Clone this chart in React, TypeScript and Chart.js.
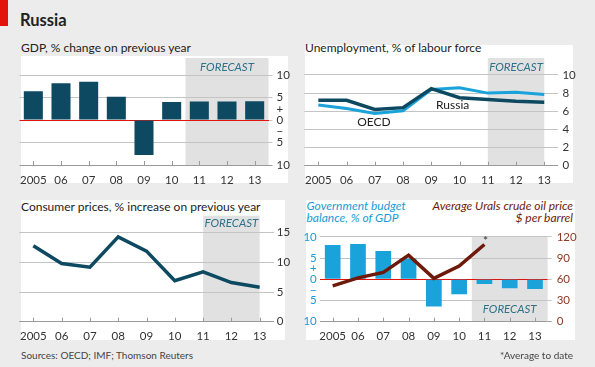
import React, { useEffect, useRef } from 'react';
import { Chart, registerables } from 'chart.js';

Chart.register(...registerables);
Chart.defaults.font.family = 'Lato, sans-serif';

// ---------- data ----------
const years = ['2005', '06', '07', '08', '09', '10', '11', '12', '13'];
const gdpGrowth = [6.4, 8.2, 8.5, 5.2, -7.8, 4.0, 4.1, 4.1, 4.2];
const unemploymentRussia = [7.2, 7.2, 6.2, 6.4, 8.5, 7.5, 7.3, 7.1, 7.0];
const unemploymentOECD = [6.7, 6.3, 5.75, 6.05, 8.4, 8.6, 8.0, 8.1, 7.85];
const consumerPrices = [12.8, 9.8, 9.2, 14.3, 11.9, 6.9, 8.4, 6.6, 5.8];
const budgetBalance = [8.1, 8.3, 6.7, 4.9, -6.4, -3.5, -1.1, -2.1, -2.3];
const uralsOilPrice = [50.8, 62.0, 69.8, 94.2, 61.3, 78.7, 109.3, null, null];

const signedTicks = [-10, -5, -2.5, 0, 2.5, 5, 10];
const unemploymentTicks = [0, 2, 4, 6, 8, 10];
const priceTicks = [0, 5, 10, 15];
const oilTicks = [0, 30, 60, 90, 120];

// ---------- styles ----------
const GRID = '#c4c4c4';
const BASE = '#9a9a9a';
const RED = '#e3120b';
const DARK = '#0d4a62';
const LIGHT = '#1aa3db';
const OIL = '#6e1a0a';
const TICK_FONT = { family: 'Lato, sans-serif', size: 11.5 };

const signedLabel = (v: number) => (v === 2.5 ? '+' : v === -2.5 ? '\u2212' : String(Math.abs(v)));

const gridColor = (redZero: boolean, base: number) => (c: any) => {
  const v = c.tick ? c.tick.value : null;
  if (v === 2.5 || v === -2.5) return 'rgba(0,0,0,0)';
  if (redZero && v === 0) return RED;
  if (v === base) return BASE;
  return GRID;
};
const tickColor = (base: number) => (c: any) => {
  const v = c.tick ? c.tick.value : null;
  if (v === 2.5 || v === -2.5) return 'rgba(0,0,0,0)';
  if (v === base) return BASE;
  return GRID;
};

const decorPlugin = {
  id: 'decor',
  beforeDraw(chart: any, _a: any, opts: any) {
    const { ctx, chartArea, scales } = chart;
    const x = scales.x;
    if (opts && opts.shadeFrom != null) {
      const x0 = x.getPixelForValue(opts.shadeFrom);
      const x1 = x.getPixelForValue(opts.shadeTo);
      ctx.save();
      ctx.fillStyle = '#e1e1e1';
      ctx.fillRect(x0, chartArea.top, x1 - x0, chartArea.bottom - chartArea.top);
      ctx.fillStyle = '#2f7189';
      ctx.font = 'italic 11.5px Lato, sans-serif';
      ctx.textAlign = 'center';
      ctx.textBaseline = 'middle';
      const ty = opts.labelAtBottom ? chartArea.bottom - opts.labelOffset : chartArea.top + opts.labelOffset;
      ctx.fillText('FORECAST', (x0 + x1) / 2, ty);
      ctx.restore();
    }
  },
  beforeDatasetsDraw(chart: any) {
    const { ctx, chartArea, scales } = chart;
    const x = scales.x;
    ctx.save();
    ctx.strokeStyle = BASE;
    ctx.lineWidth = 1;
    ctx.beginPath();
    for (let i = 0; i < x.ticks.length; i++) {
      const px = Math.round(x.getPixelForTick(i)) + 0.5;
      ctx.moveTo(px, chartArea.bottom);
      ctx.lineTo(px, chartArea.bottom - 4);
    }
    ctx.stroke();
    ctx.restore();
  },
  afterDatasetsDraw(chart: any, _a: any, opts: any) {
    if (!opts || opts.asterisk == null) return;
    const { ctx } = chart;
    const pt = chart.getDatasetMeta(opts.asterisk.dataset).data[opts.asterisk.index];
    if (!pt) return;
    ctx.save();
    ctx.fillStyle = '#333';
    ctx.font = '12px Lato, sans-serif';
    ctx.textAlign = 'center';
    ctx.textBaseline = 'alphabetic';
    ctx.fillText('*', pt.x + 1, pt.y + 1);
    ctx.restore();
  },
};

const xAxis = (height: number, padding: number) => ({
  offset: true,
  grid: { display: false, drawTicks: false },
  border: { display: false },
  ticks: { autoSkip: false, maxRotation: 0, padding, font: TICK_FONT, color: '#333' },
  afterFit: (s: any) => {
    s.height = height;
  },
});

// ---------- chart configs ----------
const gdpConfig = () => ({
  type: 'bar',
  data: {
    labels: years,
    datasets: [{ data: gdpGrowth, backgroundColor: DARK, barPercentage: 0.86, categoryPercentage: 0.8 }],
  },
  plugins: [decorPlugin],
  options: {
    animation: false,
    responsive: false,
    devicePixelRatio: 1,
    layout: { padding: { left: 19.5, top: 18, right: 0, bottom: 0 } },
    plugins: {
      legend: { display: false },
      tooltip: { enabled: false },
      decor: { shadeFrom: 5.5, shadeTo: 8.5, labelOffset: 9 },
    },
    scales: {
      x: xAxis(25, 8),
      y: {
        position: 'right',
        min: -10,
        max: 13.8,
        afterBuildTicks: (s: any) => {
          s.ticks = signedTicks.map((v) => ({ value: v }));
        },
        grid: { color: gridColor(true, -10), tickColor: tickColor(-10), drawTicks: true, tickLength: 4 },
        border: { display: false },
        ticks: { autoSkip: false, callback: (v: any) => signedLabel(Number(v)), padding: 4, font: TICK_FONT, color: '#333' },
        afterFit: (s: any) => {
          s.width = 26.5;
        },
      },
    },
  },
});

const unemploymentConfig = () => ({
  type: 'line',
  data: {
    labels: years,
    datasets: [
      { data: unemploymentRussia, borderColor: DARK, borderWidth: 3.5, pointRadius: 0, tension: 0 },
      { data: unemploymentOECD, borderColor: LIGHT, borderWidth: 3, pointRadius: 0, tension: 0 },
    ],
  },
  plugins: [decorPlugin],
  options: {
    animation: false,
    responsive: false,
    devicePixelRatio: 1,
    layout: { padding: { left: 9.2, top: 18, right: 0, bottom: 0 } },
    plugins: {
      legend: { display: false },
      tooltip: { enabled: false },
      decor: { shadeFrom: 6, shadeTo: 8, labelOffset: 9 },
    },
    scales: {
      x: xAxis(24.3, 7.4),
      y: {
        position: 'right',
        min: 0,
        max: 11.87,
        afterBuildTicks: (s: any) => {
          s.ticks = unemploymentTicks.map((v) => ({ value: v }));
        },
        grid: { color: gridColor(false, 0), drawTicks: false },
        border: { display: false },
        ticks: { autoSkip: false, padding: 4, font: TICK_FONT, color: '#333' },
        afterFit: (s: any) => {
          s.width = 36.6;
        },
      },
    },
  },
});

const pricesConfig = () => ({
  type: 'line',
  data: {
    labels: years,
    datasets: [{ data: consumerPrices, borderColor: DARK, borderWidth: 3.5, pointRadius: 0, tension: 0 }],
  },
  plugins: [decorPlugin],
  options: {
    animation: false,
    responsive: false,
    devicePixelRatio: 1,
    layout: { padding: { left: 19.2, top: 20.7, right: 0, bottom: 0 } },
    plugins: {
      legend: { display: false },
      tooltip: { enabled: false },
      decor: { shadeFrom: 6, shadeTo: 8, labelOffset: 7.6 },
    },
    scales: {
      x: xAxis(23.3, 8.1),
      y: {
        position: 'right',
        min: 0,
        max: 17.87,
        afterBuildTicks: (s: any) => {
          s.ticks = priceTicks.map((v) => ({ value: v }));
        },
        grid: { color: gridColor(false, 0), drawTicks: false },
        border: { display: false },
        ticks: { autoSkip: false, padding: 3, font: TICK_FONT, color: '#333' },
        afterFit: (s: any) => {
          s.width = 21.2;
        },
      },
    },
  },
});

const budgetConfig = () => ({
  type: 'bar',
  data: {
    labels: years,
    datasets: [
      {
        type: 'line',
        data: uralsOilPrice,
        yAxisID: 'y1',
        borderColor: OIL,
        borderWidth: 3.5,
        pointRadius: 0,
        tension: 0,
        order: 0,
      },
      {
        type: 'bar',
        data: budgetBalance,
        yAxisID: 'y',
        backgroundColor: LIGHT,
        barPercentage: 0.775,
        categoryPercentage: 0.8,
        order: 1,
      },
    ],
  },
  plugins: [decorPlugin],
  options: {
    animation: false,
    responsive: false,
    devicePixelRatio: 1,
    layout: { padding: { left: 0, top: 11.7, right: 0, bottom: 0 } },
    plugins: {
      legend: { display: false },
      tooltip: { enabled: false },
      decor: { shadeFrom: 5.5, shadeTo: 8.5, labelOffset: 12.7, labelAtBottom: true, asterisk: { dataset: 0, index: 6 } },
    },
    scales: {
      x: xAxis(28.3, 8.1),
      y: {
        position: 'left',
        min: -10,
        max: 10,
        afterBuildTicks: (s: any) => {
          s.ticks = signedTicks.map((v) => ({ value: v }));
        },
        grid: { color: gridColor(true, -10), drawTicks: false },
        border: { display: false },
        ticks: { autoSkip: false, callback: (v: any) => signedLabel(Number(v)), padding: 3.3, font: TICK_FONT, color: '#1a9bd3' },
        afterFit: (s: any) => {
          s.width = 25.05;
        },
      },
      y1: {
        position: 'right',
        min: 0,
        max: 120,
        afterBuildTicks: (s: any) => {
          s.ticks = oilTicks.map((v) => ({ value: v }));
        },
        grid: { drawOnChartArea: false, drawTicks: true, tickLength: 4, color: GRID, tickColor: tickColor(0) },
        border: { display: false },
        ticks: { autoSkip: false, padding: 5, font: TICK_FONT, color: '#8a3a20' },
        afterFit: (s: any) => {
          s.width = 47.35;
        },
      },
    },
  },
});

// ---------- components ----------
function ChartBox({ x, y, w, h, build }: { x: number; y: number; w: number; h: number; build: () => any }) {
  const ref = useRef<HTMLCanvasElement>(null);
  useEffect(() => {
    const chart = new Chart(ref.current as HTMLCanvasElement, build());
    return () => chart.destroy();
  }, []);
  return (
    <canvas
      ref={ref}
      width={w}
      height={h}
      style={{ position: 'absolute', left: x, top: y, width: w, height: h }}
    />
  );
}

const abs = (left: number, top: number, extra: any = {}) => ({ position: 'absolute' as const, left, top, ...extra });

export default function App() {
  return (
    <div
      style={{
        position: 'absolute',
        left: 0,
        top: 0,
        width: 595,
        height: 367,
        background: '#ececec',
        overflow: 'hidden',
        fontFamily: 'Lato, sans-serif',
        color: '#222',
      }}
    >
      <div style={abs(0, 0, { width: 8, height: 26, background: RED })} />
      <div style={abs(20, 10, { fontSize: 16.5, fontWeight: 700, lineHeight: '20px', color: '#222' })}>Russia</div>

      {/* white panels */}
      <div style={abs(21, 56, { width: 267, height: 127, background: '#fff' })} />
      <div style={abs(305, 45, { width: 268, height: 138, background: '#fff' })} />
      <div style={abs(21, 200, { width: 264, height: 140, background: '#fff' })} />
      <div style={abs(306, 200, { width: 269, height: 140, background: '#fff' })} />

      {/* titles */}
      <div style={abs(21, 41, { fontSize: 12, lineHeight: '14px', whiteSpace: 'nowrap' })}>GDP, % change on previous year</div>
      <div style={abs(305, 41, { fontSize: 12, lineHeight: '14px', whiteSpace: 'nowrap' })}>Unemployment, % of labour force</div>
      <div style={abs(21, 200.3, { fontSize: 12, lineHeight: '14px', whiteSpace: 'nowrap' })}>
        Consumer prices, % increase on previous year
      </div>
      <div style={abs(306.5, 200.3, { fontSize: 12, lineHeight: '12px', fontStyle: 'italic', color: '#1a9bd3', whiteSpace: 'nowrap' })}>
        Government budget
        <br />
        balance, % of GDP
      </div>
      <div
        style={{
          position: 'absolute',
          right: 22,
          top: 200.3,
          fontSize: 12,
          lineHeight: '12px',
          fontStyle: 'italic',
          color: OIL,
          textAlign: 'right',
          whiteSpace: 'nowrap',
        }}
      >
        Average Urals crude oil price
        <br />$ per barrel
      </div>

      {/* charts */}
      <ChartBox x={0} y={40} w={295} h={150} build={gdpConfig} />
      <ChartBox x={295} y={40} w={300} h={150} build={unemploymentConfig} />
      <ChartBox x={0} y={195} w={295} h={150} build={pricesConfig} />
      <ChartBox x={295} y={225} w={300} h={125} build={budgetConfig} />

      {/* series labels */}
      <div style={abs(452.7, 104.5, { fontSize: 12, lineHeight: '12px', transform: 'translate(-50%,-50%)' })}>Russia</div>
      <div style={abs(374, 121.5, { fontSize: 12, lineHeight: '12px', transform: 'translate(-50%,-50%)' })}>OECD</div>

      {/* footnotes */}
      <div style={abs(21, 349, { fontSize: 10, lineHeight: '12px', color: '#444', whiteSpace: 'nowrap' })}>
        Sources: OECD; IMF; Thomson Reuters
      </div>
      <div style={{ position: 'absolute', right: 22, top: 349, fontSize: 10, lineHeight: '12px', color: '#444', whiteSpace: 'nowrap' }}>
        *Average to date
      </div>
    </div>
  );
}
